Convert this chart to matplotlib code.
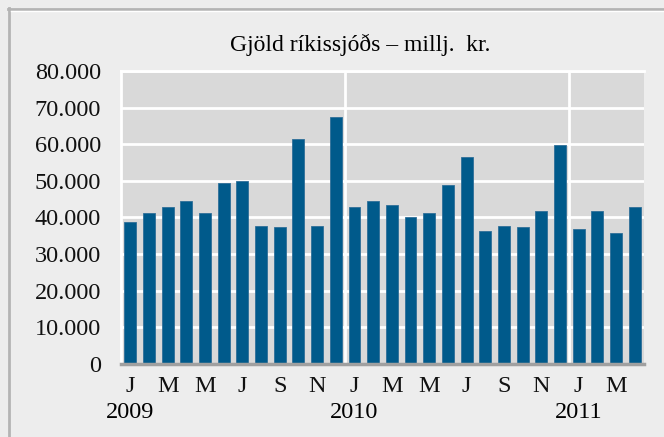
import matplotlib
matplotlib.use("Agg")
import matplotlib.pyplot as plt
from matplotlib.lines import Line2D

# Gjöld ríkissjóðs, millj. kr., jan 2009 - apr 2011
gjold_2009 = [38900, 41100, 42800, 44400, 41100, 49300, 49900, 37800, 37300, 61300, 37800, 67400]
gjold_2010 = [42800, 44400, 43300, 40000, 41100, 48800, 56400, 36200, 37800, 37300, 41700, 59900]
gjold_2011 = [36800, 41800, 35800, 42900]
manudir = ['J', 'M', 'M', 'J', 'S', 'N']
ar = ['2009', '2010', '2011']
y_ticks = [0, 10000, 20000, 30000, 40000, 50000, 60000, 70000, 80000]
y_labels = ['0', '10.000', '20.000', '30.000', '40.000', '50.000', '60.000', '70.000', '80.000']

vals = gjold_2009 + gjold_2010 + gjold_2011
x = list(range(len(vals)))

plt.rcParams['font.family'] = ['Liberation Serif', 'DejaVu Serif']
fs = 17.5

fig = plt.figure(figsize=(6.64, 4.37), dpi=100, facecolor='#EDEDED')
ax = fig.add_axes([121/664, 1-364/437, (644-121)/664, (364-71)/437])
ax.set_facecolor('#D9D9D9')

ax.bar(x, vals, width=0.64, color='#005A8B', edgecolor='#2F6F98', linewidth=0.6, zorder=3)

ax.set_xlim(-0.5, len(vals)-0.5)
ax.set_ylim(0, 80000)
ax.set_yticks(y_ticks)
ax.set_yticklabels(y_labels, fontsize=fs)
ax.yaxis.grid(True, color='white', linewidth=2, zorder=1)
for b in [11.5, 23.5]:
    ax.axvline(b, color='white', linewidth=2, zorder=1)

# mánaðarmerki á hvern annan mánuð, ár undir
pos = x[::2]
labs = [manudir[i % 6] for i in range(len(pos))]
ax.set_xticks(pos)
ax.set_xticklabels(labs, fontsize=fs)
for i, a in enumerate(ar):
    ax.text(i*12, -0.165, a, transform=ax.get_xaxis_transform(), ha='center', va='center', fontsize=fs)

ax.tick_params(axis='both', length=0, colors='#111111')
ax.tick_params(axis='y', pad=14.5)
ax.tick_params(axis='x', pad=9)

ax.spines['right'].set_visible(False)
ax.spines['top'].set_color('white')
ax.spines['top'].set_linewidth(2)
ax.spines['left'].set_color('white')
ax.spines['left'].set_linewidth(2)
ax.spines['bottom'].set_color('#A0A0A0')
ax.spines['bottom'].set_linewidth(2.5)
ax.spines['bottom'].set_zorder(4)

fig.text(360/664, 1-45/437, 'Gjöld ríkissjóðs \u2013 millj.  kr.', ha='center', va='center', fontsize=17)

# rammi
fig.add_artist(Line2D([8/664, 1], [1-8.5/437, 1-8.5/437], color='#B4B4B4', linewidth=2))
fig.add_artist(Line2D([9/664, 9/664], [0, 1-8/437], color='#B4B4B4', linewidth=2))
fig.add_artist(Line2D([11/664, 1], [1-10.8/437, 1-10.8/437], color='white', linewidth=1))

fig.savefig('out.png', dpi=100, facecolor=fig.get_facecolor())
